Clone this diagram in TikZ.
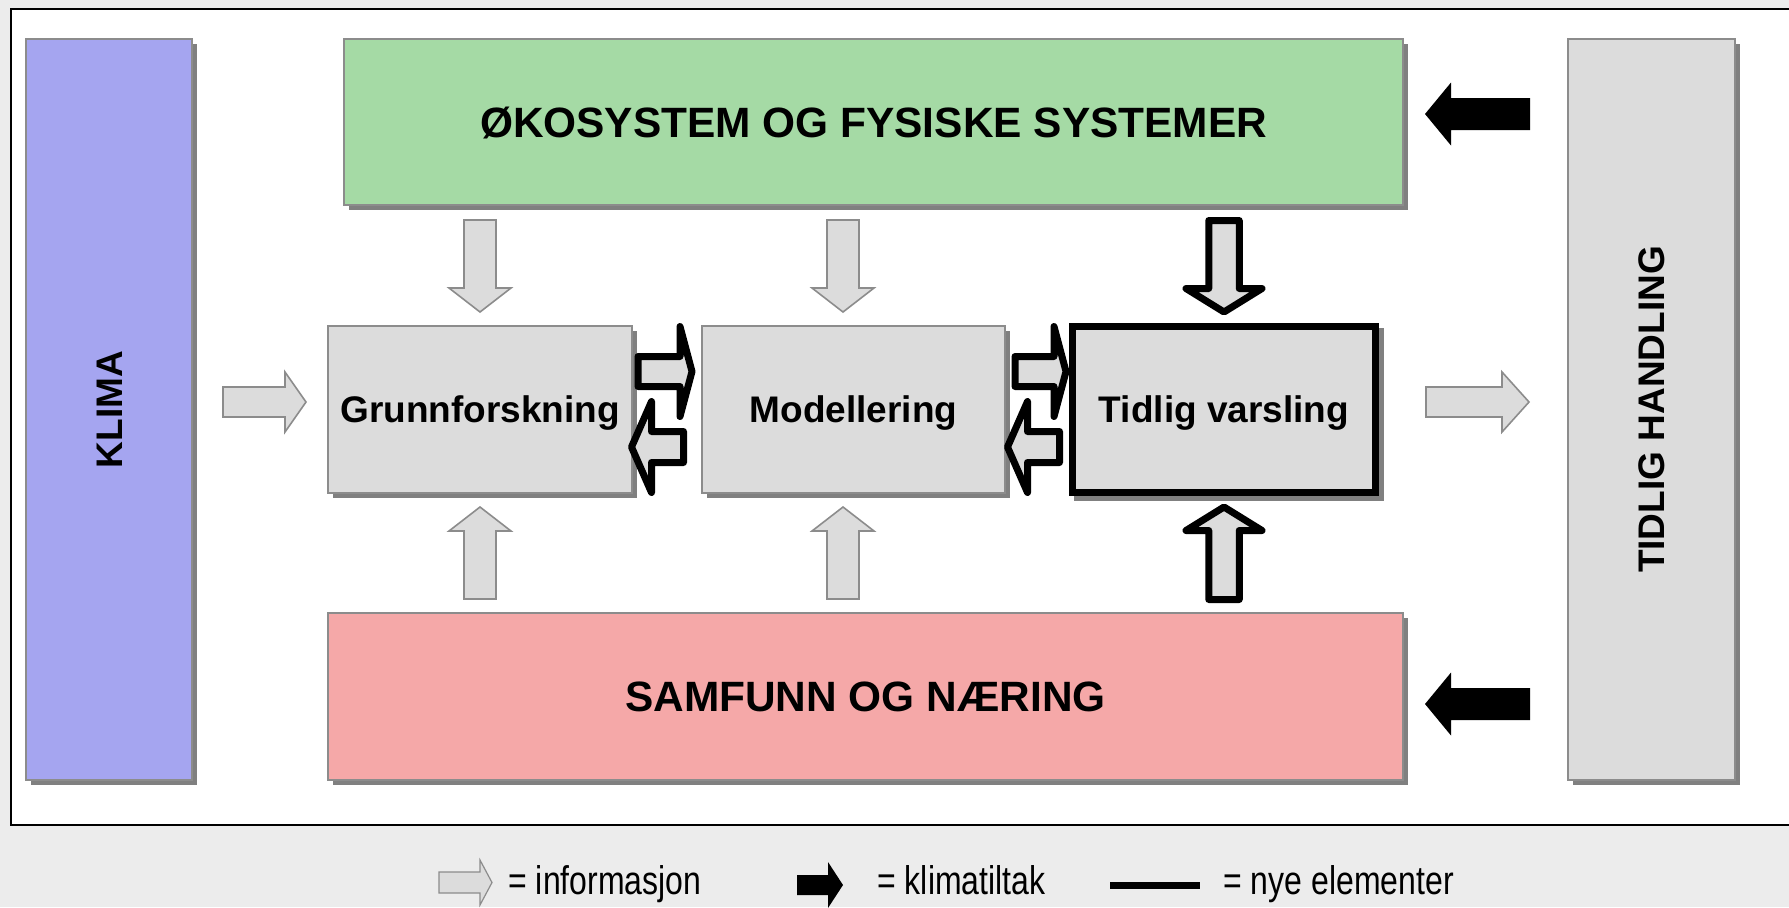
\documentclass[tikz,border=0pt]{standalone}
\usepackage{fontspec}
\setmainfont{Liberation Sans}
\newfontfamily\legendfont[FakeStretch=0.8]{Liberation Sans}
\usetikzlibrary{calc,shadows}

\definecolor{bggray}{RGB}{236,236,236}
\definecolor{boxgray}{RGB}{220,220,220}
\definecolor{linegray}{RGB}{140,140,140}
\definecolor{shadowgray}{RGB}{128,128,128}
\definecolor{klimablue}{RGB}{165,165,240}
\definecolor{okogreen}{RGB}{165,218,165}
\definecolor{samred}{RGB}{245,168,168}

\tikzset{
  pics/blockarrow/.style n args={4}{code={
    \path[pic actions] (0,-#3) -- (#2,-#3) -- (#2,-#4) -- (#1,0) -- (#2,#4) -- (#2,#3) -- (0,#3) -- cycle;
  }},
  infoarrow/.style={draw=linegray, fill=boxgray, line width=0.8pt},
  newarrow/.style={draw=black, fill=boxgray, line width=3.5pt, line join=round},
  tiltakarrow/.style={fill=black},
}

\begin{document}
\begin{tikzpicture}[x=0.5pt, y=-0.5pt,
  box/.style={draw=linegray, fill=boxgray, line width=0.8pt, outer sep=0pt, inner sep=0pt,
    drop shadow={shadow xshift=2.5pt, shadow yshift=-2.5pt, fill=shadowgray, opacity=1}},
  boxtext/.style={font=\fontsize{18.5pt}{22pt}\selectfont\bfseries, text height=13.2pt, text depth=0pt},
  bigtext/.style={font=\fontsize{21.2pt}{25pt}\selectfont\bfseries, text height=15.2pt, text depth=0pt},
  legendtext/.style={font=\fontsize{20pt}{24pt}\legendfont, anchor=base west, inner sep=0pt}]
\useasboundingbox (0,0) rectangle (1789,907);
\fill[bggray] (0,0) rectangle (1789,907);
\draw[fill=white, line width=1pt] (11,9) rectangle (1800,825);

\node[box, fill=klimablue, minimum width=83pt, minimum height=370.5pt,
  label={[boxtext, rotate=90]center:KLIMA}] (klima) at (109,409.5) {};
\node[box, fill=okogreen, minimum width=529.5pt, minimum height=83pt, bigtext] (oko) at (873.5,122) {ØKOSYSTEM OG FYSISKE SYSTEMER};
\node[box, minimum width=152pt, minimum height=83.5pt, boxtext] (grunn) at (480,409.5) {Grunnforskning};
\node[box, minimum width=151.5pt, minimum height=83.5pt, boxtext] (modell) at (853.5,409.5) {Modellering};
\node[box, draw=black, line width=3.5pt, minimum width=151.5pt, minimum height=83pt, boxtext,
  drop shadow={shadow xshift=2.5pt, shadow yshift=-2.5pt, fill=shadowgray, draw=shadowgray, line width=3.5pt, opacity=1}]
  (tidlig) at (1224,409.5) {Tidlig varsling};
\node[box, fill=samred, minimum width=537.5pt, minimum height=83.5pt, bigtext] (samfunn) at (865.5,696.5) {SAMFUNN OG NÆRING};
\node[box, minimum width=83.5pt, minimum height=370.5pt,
  label={[boxtext, rotate=90]center:TIDLIG HANDLING}] (handling) at (1651.5,409.5) {};

\pic[infoarrow] at ($(klima.east)+(31,-7.5)$) {blockarrow={83}{62}{15}{30}};
\pic[infoarrow, rotate=-90] at ($(oko.south -| grunn.north)+(0,15)$) {blockarrow={92}{68}{16}{31}};
\pic[infoarrow, rotate=-90] at ($(oko.south -| modell.north)+(-10.5,15)$) {blockarrow={92}{68}{16}{31}};
\pic[infoarrow, rotate=90] at ($(samfunn.north -| grunn.south)+(0,-14)$) {blockarrow={92}{68}{16}{31}};
\pic[infoarrow, rotate=90] at ($(samfunn.north -| modell.south)+(-10.5,-14)$) {blockarrow={92}{68}{16}{31}};
\pic[infoarrow] at ($(tidlig.east)+(50.5,-7.5)$) {blockarrow={103}{76}{15}{30}};

\pic[newarrow] at ($(grunn.east)+(6,-38)$) {blockarrow={54}{42}{15}{45}};
\pic[newarrow, rotate=180] at ($(modell.west)+(-18.5,37.5)$) {blockarrow={52}{32}{15.5}{45.5}};
\pic[newarrow] at ($(modell.east)+(10,-38)$) {blockarrow={51}{39}{15}{45}};
\pic[newarrow, rotate=180] at ($(tidlig.west)+(-13,37.5)$) {blockarrow={52}{32}{15.5}{45.5}};
\pic[newarrow, rotate=-90] at ($(oko.south -| tidlig.north)+(0,15.5)$) {blockarrow={91.5}{68}{15.25}{38}};
\pic[newarrow, rotate=90] at ($(samfunn.north -| tidlig.south)+(0,-13.5)$) {blockarrow={92.5}{69}{15.25}{38}};

\pic[tiltakarrow, rotate=180] at ($(handling.west |- oko.east)+(-38,-8)$) {blockarrow={105}{79}{16}{31.5}};
\pic[tiltakarrow, rotate=180] at ($(handling.west |- samfunn.east)+(-38,7.5)$) {blockarrow={105}{79}{16}{31.5}};

\pic[infoarrow, line width=0.6pt] at (439,882.5) {blockarrow={53}{41}{10.5}{22.5}};
\node[legendtext] (info) at (508,894) {= informasjon};
\pic[tiltakarrow] at (797,885) {blockarrow={46}{31}{10}{23}};
\node[legendtext] (tiltak) at (877,894) {= klimatiltak};
\draw[line width=3.5pt] (1110,885.5) -- (1200,885.5);
\node[legendtext] (nye) at (1223,894) {= nye elementer};
\end{tikzpicture}
\end{document}
